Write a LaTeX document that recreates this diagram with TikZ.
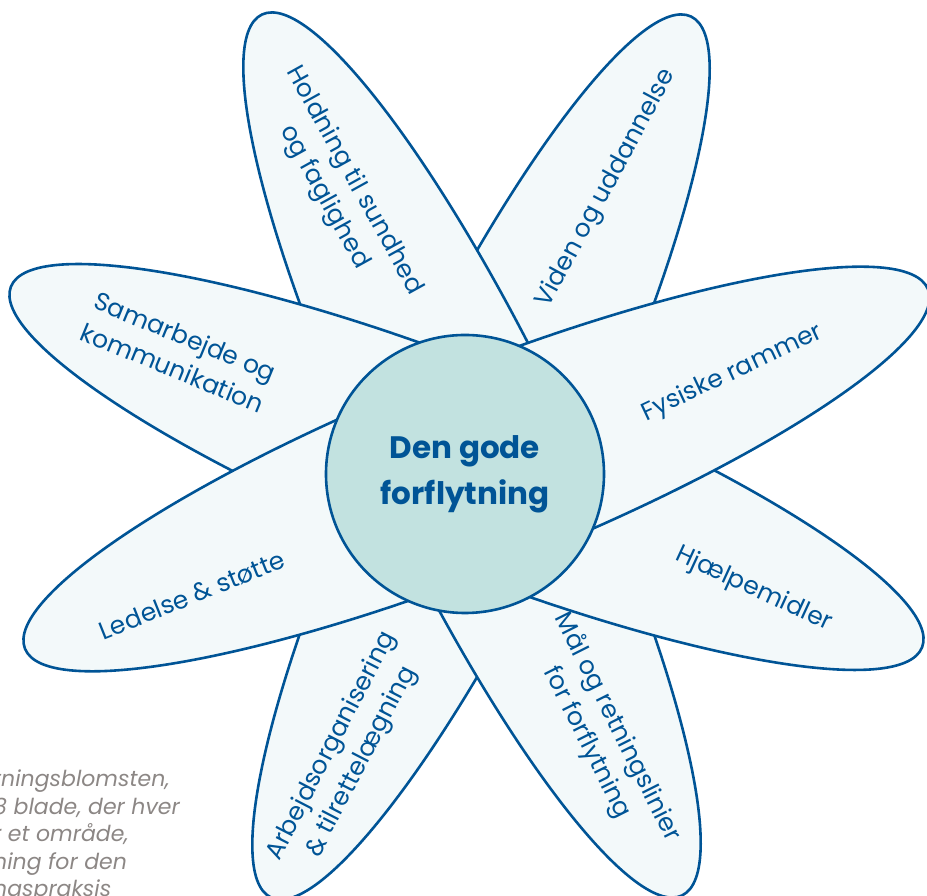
\documentclass[tikz,border=0pt]{standalone}
\usepackage{fontspec}
\setmainfont{Poppins}

\definecolor{flowerblue}{HTML}{005496}
\definecolor{petalfill}{HTML}{F3F9FA}
\definecolor{corefill}{HTML}{C2E2E0}
\definecolor{notegray}{HTML}{8C8785}

\tikzstyle{petal}=[draw=flowerblue, fill=petalfill, line width=2.6pt]
\tikzstyle{core}=[circle, draw=flowerblue, fill=corefill, line width=2.6pt, minimum size=278pt, inner sep=0pt, align=center, text=flowerblue, font=\fontsize{31}{46}\selectfont\bfseries]
\tikzstyle{ptext}=[align=center, inner sep=0pt, text=flowerblue, font=\fontsize{25}{34}\selectfont]
\tikzstyle{note}=[align=left, inner sep=0pt, text=notegray, font=\fontsize{22}{27.5}\selectfont\itshape]

\begin{document}
\begin{tikzpicture}[x=1pt,y=1pt]

        \useasboundingbox (0,0) rectangle (927,896);
        \clip (0,0) rectangle (927,896);
        %
        \draw[petal, rotate around={64.5:(481,439)}]  (481,439)   ellipse [x radius=488, y radius=100];
        \draw[petal, rotate around={115.5:(472,441)}] (472,441)   ellipse [x radius=488, y radius=100];
        \draw[petal, rotate around={158.4:(466.5,429)}] (466.5,429) ellipse [x radius=490, y radius=100];
        \draw[petal, rotate around={21.7:(476.5,427)}]  (476.5,427) ellipse [x radius=486, y radius=100];
        %
        \node[core] (center) at (465,422) {Den gode\\forflytning};
        %
        \node[ptext, rotate=-61]   (holdning)   at (339,707)   {Holdning til sundhed\\og faglighed};
        \node[ptext, rotate=61.8]  (viden)      at (606.5,707.5) {Viden og uddannelse};
        \node[ptext, rotate=25.2]  (fysiske)    at (732.5,522.5) {Fysiske rammer};
        \node[ptext, rotate=-24.7] (hjaelp)     at (753.5,306.5) {Hjælpemidler};
        \node[ptext, rotate=-63.3] (maal)       at (602,161)   {Mål og retningslinier\\for forflytning};
        \node[ptext, rotate=62.7]  (arbejde)    at (347,142)   {Arbejdsorganisering\\\& tilrettelægning};
        \node[ptext, rotate=21.8]  (ledelse)    at (192,301)   {Ledelse \& støtte};
        \node[ptext, rotate=-22.4] (samarbejde) at (179,544)   {Samarbejde og\\kommunikation};
        %
        \node[note, anchor=north west] (caption) at (-7,126)
            {tningsblomsten,\\8 blade, der hver\\r et område,\\ning for den\\ngspraksis};
      \end{tikzpicture}
\end{document}
